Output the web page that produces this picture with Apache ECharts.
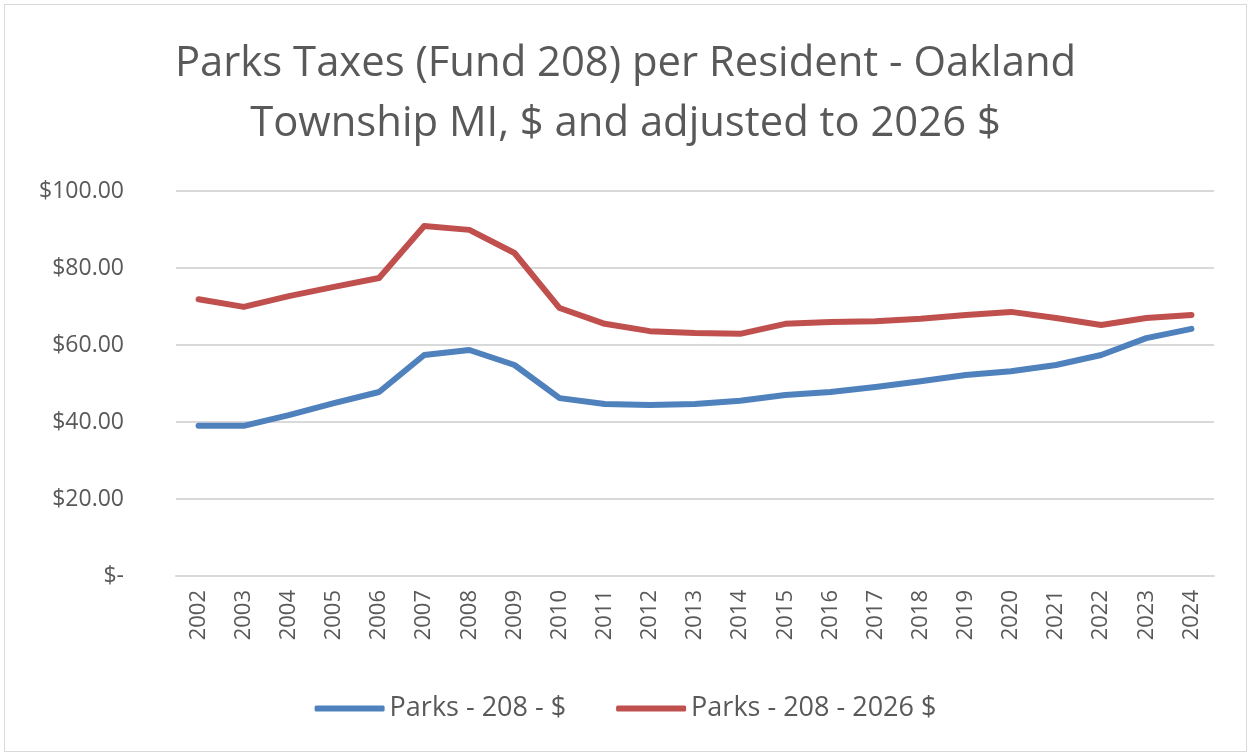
<!DOCTYPE html>
<html>
<head>
<meta charset="utf-8">
<script src="https://cdn.jsdelivr.net/npm/echarts@6/dist/echarts.min.js"></script>
<style>
  html, body { margin: 0; padding: 0; background: #fff; }
  #chart { position: absolute; left: 4px; top: 4px; width: 1243px; height: 748px; border: 1px solid #d9d9d9; box-sizing: border-box; }
</style>
</head>
<body>
<div id="chart"></div>
<script>
// years on the x axis
const years = ['2002', '2003', '2004', '2005', '2006', '2007', '2008', '2009', '2010', '2011', '2012',
  '2013', '2014', '2015', '2016', '2017', '2018', '2019', '2020', '2021', '2022', '2023', '2024'];

// nominal $ per resident
const parksNominal = [39.0, 39.0, 41.8, 44.9, 47.8, 57.4, 58.7, 54.8, 46.2, 44.7, 44.4,
  44.7, 45.5, 47.0, 47.8, 49.1, 50.6, 52.2, 53.2, 54.8, 57.4, 61.8, 64.2];

// adjusted to 2026 $
const parksAdjusted = [71.9, 69.9, 72.7, 75.1, 77.4, 90.9, 89.9, 83.9, 69.6, 65.5, 63.6,
  63.1, 62.9, 65.5, 66.0, 66.2, 66.8, 67.8, 68.6, 67.0, 65.2, 67.0, 67.8];

const seriesNames = ['Parks - 208 - $', 'Parks - 208 - 2026 $'];
const yTicks = [0, 20, 40, 60, 80, 100];

const font = 'Open Sans';
const chart = echarts.init(document.getElementById('chart'));

const option = {
  animation: false,
  textStyle: { fontFamily: font },
  title: {
    text: 'Parks Taxes (Fund 208) per Resident - Oakland\nTownship MI, $ and adjusted to 2026 $',
    left: 'center',
    top: 24,
    textStyle: { fontFamily: font, fontSize: 41.8, fontWeight: 'normal', color: '#595959', lineHeight: 60 }
  },
  grid: { left: 171, right: 32, top: 186, bottom: 175 },
  legend: {
    bottom: 24,
    left: 'center',
    itemWidth: 70,
    itemHeight: 6,
    itemGap: 50,
    icon: 'roundRect',
    textStyle: { fontFamily: font, fontSize: 27, color: '#595959' },
    data: seriesNames
  },
  xAxis: {
    type: 'category',
    data: years,
    boundaryGap: true,
    axisLine: { lineStyle: { color: '#d9d9d9', width: 2 } },
    axisTick: { show: false },
    axisLabel: { rotate: 90, fontSize: 22, color: '#595959', margin: 14 }
  },
  yAxis: {
    type: 'value',
    min: yTicks[0],
    max: yTicks[yTicks.length - 1],
    interval: 20,
    axisLine: { show: false },
    axisTick: { show: false },
    splitLine: { lineStyle: { color: '#d9d9d9', width: 2 } },
    axisLabel: {
      fontSize: 23,
      color: '#595959',
      margin: 52,
      formatter: v => v === 0 ? '$-' : '$' + v.toFixed(2)
    }
  },
  series: [
    {
      name: seriesNames[0],
      type: 'line',
      data: parksNominal,
      symbol: 'none',
      lineStyle: { color: '#4f81bd', width: 6, cap: 'round', join: 'round' },
      itemStyle: { color: '#4f81bd' }
    },
    {
      name: seriesNames[1],
      type: 'line',
      data: parksAdjusted,
      symbol: 'none',
      lineStyle: { color: '#c0504d', width: 6, cap: 'round', join: 'round' },
      itemStyle: { color: '#c0504d' }
    }
  ]
};

chart.setOption(option);
</script>
</body>
</html>
